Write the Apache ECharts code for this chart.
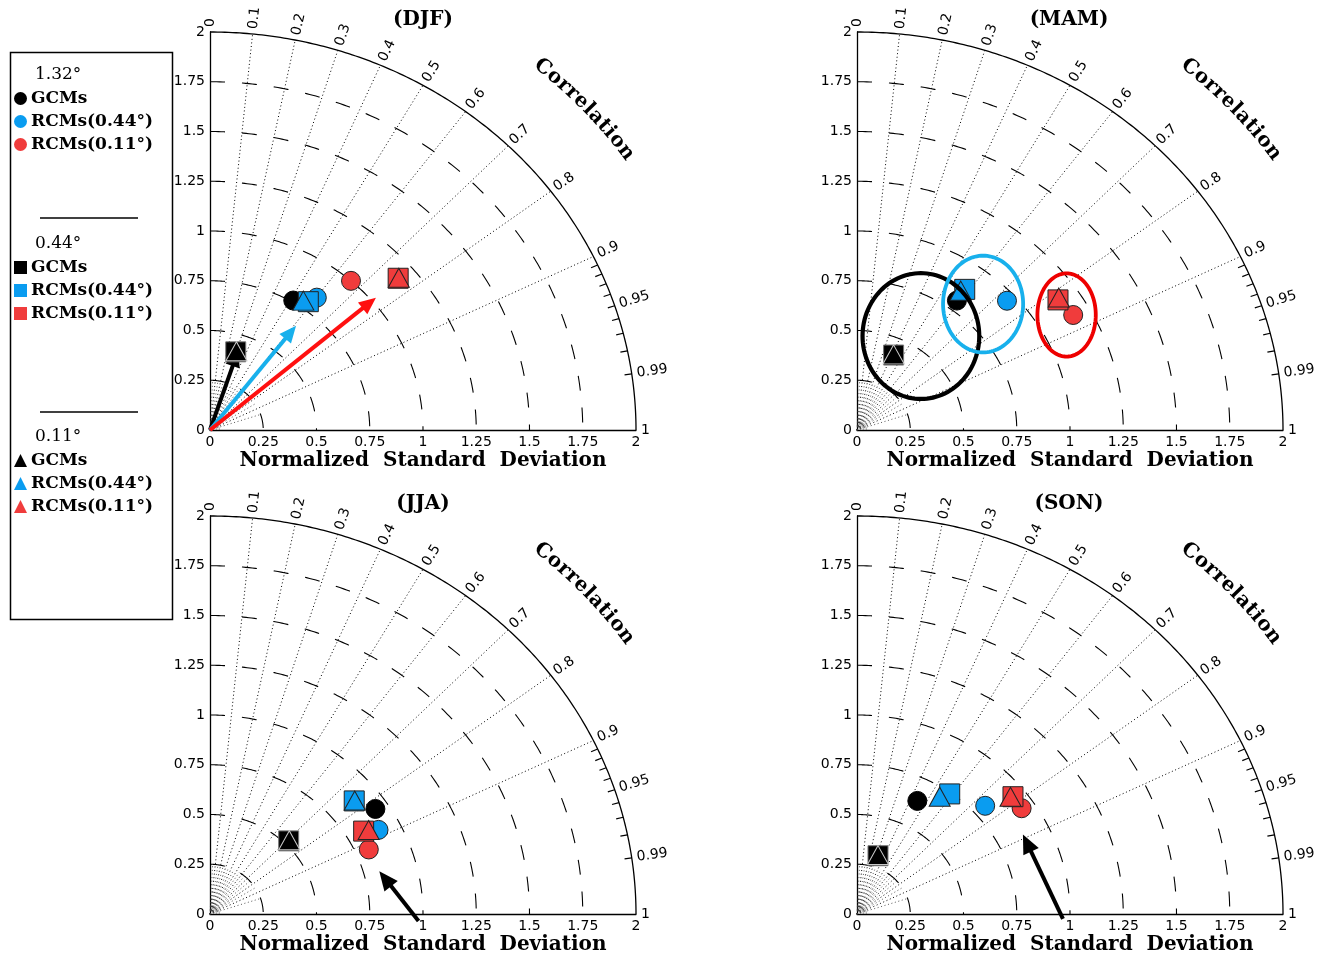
<!DOCTYPE html>
<html><head><meta charset="utf-8">
<script src="https://cdn.jsdelivr.net/npm/echarts@6/dist/echarts.min.js"></script>
<style>html,body{margin:0;padding:0;background:#fff}#c{width:1319px;height:957px}</style>
</head><body><div id="c"></div>
<script>
// ---------------- data ----------------
const seasons = ['(DJF)', '(MAM)', '(JJA)', '(SON)'];
const resolutions = ['1.32°', '0.44°', '0.11°'];
const models = ['GCMs', 'RCMs(0.44°)', 'RCMs(0.11°)'];
// rows: [normalized standard deviation, correlation]
// order: 1.32° (GCMs, RCMs0.44, RCMs0.11), 0.44° (...), 0.11° (...)
const djfPoints = [[0.759,0.515],[0.833,0.602],[1.000,0.662],
                   [0.411,0.294],[0.793,0.582],[1.167,0.757],
                   [0.415,0.299],[0.784,0.559],[1.171,0.757]];
const mamPoints = [[0.802,0.585],[0.958,0.735],[1.168,0.869],
                   [0.414,0.415],[0.869,0.582],[1.148,0.822],
                   [0.417,0.412],[0.853,0.571],[1.158,0.818]];
const jjaPoints = [[0.939,0.827],[0.897,0.882],[0.813,0.917],
                   [0.521,0.709],[0.884,0.766],[0.833,0.866],
                   [0.525,0.709],[0.887,0.766],[0.856,0.870]];
const sonPoints = [[0.635,0.446],[0.811,0.742],[0.938,0.824],
                   [0.309,0.319],[0.744,0.585],[0.940,0.779],
                   [0.312,0.316],[0.706,0.550],[0.931,0.774]];
const stdTicks = [0, 0.25, 0.5, 0.75, 1, 1.25, 1.5, 1.75, 2];
const stdArcs = [0.25, 0.5, 0.75, 1, 1.25, 1.5, 1.75];
const corrLabels = [0, 0.1, 0.2, 0.3, 0.4, 0.5, 0.6, 0.7, 0.8, 0.9, 0.95, 0.99, 1];
const corrRays = [0.1, 0.2, 0.3, 0.4, 0.5, 0.6, 0.7, 0.8, 0.9];
const corrShortRays = [0.05, 0.15, 0.25, 0.35, 0.45, 0.55, 0.65, 0.75, 0.85, 0.95];
const corrMinorTicks = [0.91, 0.92, 0.93, 0.94, 0.95, 0.96, 0.97, 0.98, 0.99];
// annotation arrows per panel: [x0, y0, x1, y1] (in normalized-SD units)
const djfArrows = [[0,0,0.133,0.402],[0,0,0.404,0.524],[0,0,0.779,0.665]];
const djfArrowColors = ['#000000', '#18b0ec', '#ff1010'];
const jjaArrows = [[0.979,-0.035,0.795,0.215]];
const sonArrows = [[0.967,-0.025,0.779,0.400]];
// MAM highlight ellipses: [cx, cy, rx, ry]
const mamEllipses = [[0.300,0.472,0.274,0.316],[0.592,0.633,0.188,0.243],[0.984,0.578,0.137,0.209]];
const mamEllipseColors = ['#000000', '#18b0ec', '#ee0000'];

// ---------------- layout ----------------
const grids = [
  {left: 210, top: 32, width: 426, height: 398},
  {left: 857, top: 32, width: 426, height: 398},
  {left: 210, top: 516, width: 426, height: 398},
  {left: 857, top: 516, width: 426, height: 398}
];
const titleCenters = [[423, 10], [1069, 10], [423, 494], [1069, 494]];
const markerColors = ['#000000', '#0a9cf0', '#f03c3c'];
const shapes = ['circle', 'rect', 'triangle'];
const SERIF = '"DejaVu Serif", serif';
const SANS = '"DejaVu Sans", sans-serif';

const measureCtx = document.createElement('canvas').getContext('2d');

function toXY(row) {
  const s = row[0], c = row[1];
  return [s * c, s * Math.sqrt(1 - c * c)];
}

function frameRender(params, api) {
  const P = (x, y) => api.coord([x, y]);
  const pol = (r, c) => P(r * c, r * Math.sqrt(Math.max(0, 1 - c * c)));
  const ch = [];
  const dotStyle = {stroke: '#000', lineWidth: 1, lineDash: [1, 2.6], fill: null};
  corrRays.forEach(c => {
    const a = P(0, 0), b = pol(2, c);
    ch.push({type: 'line', shape: {x1: a[0], y1: a[1], x2: b[0], y2: b[1]}, style: dotStyle});
  });
  corrShortRays.forEach(c => {
    const a = P(0, 0), b = pol(0.25, c);
    ch.push({type: 'line', shape: {x1: a[0], y1: a[1], x2: b[0], y2: b[1]}, style: {stroke: '#444', lineWidth: 0.9, lineDash: [1, 2.6], fill: null}});
  });
  [0.016, 0.03, 0.044].forEach(r => {
    const pts = [];
    for (let d = 90; d >= 0; d -= 5) { const t = d * Math.PI / 180; pts.push(P(r * Math.cos(t), r * Math.sin(t))); }
    ch.push({type: 'polyline', shape: {points: pts}, style: {stroke: '#555', lineWidth: 0.6, fill: null}});
  });
  stdArcs.forEach(r => {
    const pts = [];
    for (let d = 90; d >= 0; d -= 0.5) { const t = d * Math.PI / 180; pts.push(P(r * Math.cos(t), r * Math.sin(t))); }
    ch.push({type: 'polyline', shape: {points: pts}, style: {stroke: '#000', lineWidth: 1.1, lineDash: [15, 17], fill: null}});
  });
  const outer = [];
  for (let d = 90; d >= 0; d -= 0.5) { const t = d * Math.PI / 180; outer.push(P(2 * Math.cos(t), 2 * Math.sin(t))); }
  ch.push({type: 'polyline', shape: {points: outer}, style: {stroke: '#000', lineWidth: 1.3, fill: null}});
  corrMinorTicks.forEach(c => {
    const a = pol(2, c), b = pol(1.966, c);
    ch.push({type: 'line', shape: {x1: a[0], y1: a[1], x2: b[0], y2: b[1]}, style: {stroke: '#000', lineWidth: 1.2}});
  });
  corrLabels.forEach(c => {
    const a = pol(2, c), b = pol(2.1, c);
    let dx = b[0] - a[0], dy = b[1] - a[1];
    const L = Math.hypot(dx, dy); dx /= L; dy /= L;
    ch.push({type: 'text', x: a[0] + dx * 5, y: a[1] + dy * 5, rotation: Math.atan2(-dy, dx),
      style: {text: String(c), fill: '#000', fontSize: 14, fontFamily: SANS, align: 'left', verticalAlign: 'middle'}});
  });
  const O = P(0, 0), sx = P(1, 0)[0] - O[0], sy = O[1] - P(0, 1)[1];
  const word = 'Correlation', R = 2.40, font = 'bold 20px "DejaVu Serif"';
  measureCtx.font = font;
  const widths = word.split('').map(chr => measureCtx.measureText(chr).width + 0.6);
  const total = widths.reduce((s, w) => s + w, 0);
  const thC = 42.5 * Math.PI / 180;
  const localR = t => R * Math.hypot(sx * Math.sin(t), sy * Math.cos(t));
  let th = thC + (total / 2) / localR(thC);
  word.split('').forEach((chr, i) => {
    const half = widths[i] / 2;
    th -= half / localR(th);
    const x = O[0] + R * sx * Math.cos(th), y = O[1] - R * sy * Math.sin(th);
    ch.push({type: 'text', x: x, y: y, rotation: Math.atan2(-sy * Math.cos(th), sx * Math.sin(th)),
      style: {text: chr, fill: '#000', font: font, align: 'center', verticalAlign: 'middle'}});
    th -= half / localR(th);
  });
  return {type: 'group', children: ch};
}

function arrowRender(colors, width, headLen, headHalf) {
  return function (params, api) {
    const p0 = api.coord([api.value(0), api.value(1)]);
    const p1 = api.coord([api.value(2), api.value(3)]);
    let dx = p1[0] - p0[0], dy = p1[1] - p0[1];
    const L = Math.hypot(dx, dy); dx /= L; dy /= L;
    const bx = p1[0] - dx * headLen, by = p1[1] - dy * headLen;
    const col = colors[params.dataIndex % colors.length];
    return {type: 'group', children: [
      {type: 'line', shape: {x1: p0[0], y1: p0[1], x2: bx + dx, y2: by + dy}, style: {stroke: col, lineWidth: width}},
      {type: 'polygon', shape: {points: [[p1[0], p1[1]], [bx - dy * headHalf, by + dx * headHalf], [bx + dy * headHalf, by - dx * headHalf]]}, style: {fill: col}}
    ]};
  };
}

function ellipseRender(params, api) {
  const cx = api.value(0), cy = api.value(1), rx = api.value(2), ry = api.value(3);
  const pts = [];
  for (let d = 0; d < 360; d += 3) { const t = d * Math.PI / 180; pts.push(api.coord([cx + rx * Math.cos(t), cy + ry * Math.sin(t)])); }
  return {type: 'polygon', shape: {points: pts}, style: {fill: 'none', stroke: mamEllipseColors[params.dataIndex], lineWidth: params.dataIndex === 0 ? 4.2 : 3.8}};
}

// ---------------- option ----------------
const xAxes = [], yAxes = [], series = [], titles = [];
const seasonData = [djfPoints, mamPoints, jjaPoints, sonPoints];
grids.forEach((g, i) => {
  const labelStyle = {color: '#000', fontSize: 14, fontFamily: SANS, showMinLabel: true, showMaxLabel: true};
  xAxes.push({gridIndex: i, type: 'value', min: stdTicks[0], max: stdTicks[stdTicks.length - 1], interval: 0.25,
    axisLine: {show: true, onZero: false, lineStyle: {color: '#000', width: 1.3}}, axisTick: {show: false}, splitLine: {show: false},
    axisLabel: Object.assign({margin: 5}, labelStyle),
    name: 'Normalized  Standard  Deviation', nameLocation: 'middle', nameGap: 21,
    nameTextStyle: {color: '#000', fontSize: 20, fontWeight: 'bold', fontFamily: SERIF}});
  yAxes.push({gridIndex: i, type: 'value', min: stdTicks[0], max: stdTicks[stdTicks.length - 1], interval: 0.25,
    axisLine: {show: true, onZero: false, lineStyle: {color: '#000', width: 1.3}}, axisTick: {show: false}, splitLine: {show: false},
    axisLabel: Object.assign({margin: 5}, labelStyle)});
  titles.push({text: seasons[i], left: titleCenters[i][0], top: titleCenters[i][1], textAlign: 'center', padding: 0,
    textStyle: {color: '#000', fontSize: 20, fontWeight: 'bold', fontFamily: SERIF}});
  series.push({type: 'custom', xAxisIndex: i, yAxisIndex: i, data: [[0, 0]], renderItem: frameRender, clip: false, silent: true, z: 1});
  seasonData[i].forEach((row, k) => {
    const res = Math.floor(k / 3), m = k % 3;
    let border = '#222';
    if (m === 0) border = res === 0 ? '#000' : (res === 1 ? '#777' : '#c8c8c8');
    series.push({type: 'scatter', name: resolutions[res] + '|' + models[m], xAxisIndex: i, yAxisIndex: i,
      symbol: shapes[res], symbolSize: res === 0 ? 19 : (res === 1 ? 20 : [21, 19]),
      itemStyle: {color: markerColors[m], borderColor: border, borderWidth: 1, opacity: 1},
      data: [toXY(row)], z: 3, silent: true});
  });
});
series.push({type: 'custom', xAxisIndex: 0, yAxisIndex: 0, data: djfArrows, encode: {x: [0, 2], y: [1, 3]}, clip: false, silent: true, z: 2,
  renderItem: arrowRender(djfArrowColors, 4, 17, 7.5)});
series.push({type: 'custom', xAxisIndex: 2, yAxisIndex: 2, data: jjaArrows, encode: {x: [0, 2], y: [1, 3]}, clip: false, silent: true, z: 2,
  renderItem: arrowRender(['#000'], 4, 19, 8.5)});
series.push({type: 'custom', xAxisIndex: 3, yAxisIndex: 3, data: sonArrows, encode: {x: [0, 2], y: [1, 3]}, clip: false, silent: true, z: 2,
  renderItem: arrowRender(['#000'], 4, 19, 8.5)});
series.push({type: 'custom', xAxisIndex: 1, yAxisIndex: 1, data: mamEllipses, encode: {x: [0], y: [1]}, clip: false, silent: true, z: 4,
  renderItem: ellipseRender});

const legendTops = [90, 259, 452];
const legends = resolutions.map((r, j) => ({
  orient: 'vertical', left: 14, top: legendTops[j], padding: 0, itemGap: 6, itemWidth: 13, itemHeight: 13,
  data: models.map(m => r + '|' + m), formatter: name => name.split('|')[1], selectedMode: false,
  itemStyle: {borderWidth: 0},
  textStyle: {color: '#000', fontSize: 17, fontWeight: 'bold', fontFamily: SERIF, padding: [0, 0, 0, -1]}
}));

const headerYs = [75, 244, 437];
const graphic = [
  {type: 'rect', left: 8, top: 50, shape: {width: 162, height: 567}, style: {fill: 'none', stroke: '#000', lineWidth: 1.5}},
  {type: 'line', shape: {x1: 40, y1: 218, x2: 138, y2: 218}, style: {stroke: '#000', lineWidth: 1.5}},
  {type: 'line', shape: {x1: 40, y1: 412, x2: 138, y2: 412}, style: {stroke: '#000', lineWidth: 1.5}}
].concat(resolutions.map((r, j) => ({type: 'text', x: 35, y: headerYs[j],
  style: {text: r, fill: '#000', fontSize: 17, fontFamily: SERIF, align: 'left', verticalAlign: 'middle'}})));

const chart = echarts.init(document.getElementById('c'), null, {renderer: 'canvas'});
chart.setOption({
  animation: false,
  backgroundColor: '#fff',
  title: titles,
  grid: grids,
  xAxis: xAxes,
  yAxis: yAxes,
  legend: legends,
  graphic: graphic,
  series: series
});
</script></body></html>
